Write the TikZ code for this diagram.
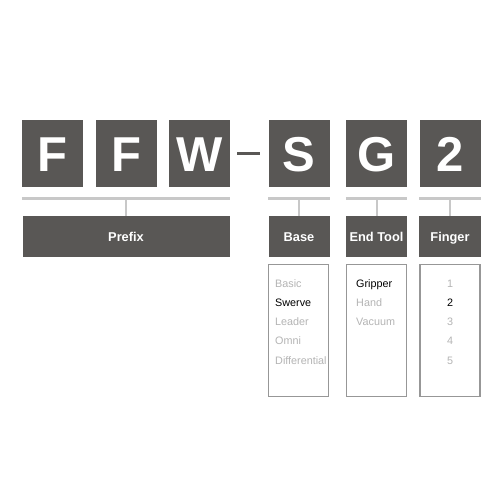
\documentclass[tikz,border=0pt]{standalone}
\usepackage{fontspec}
\setmainfont{Liberation Sans}
\definecolor{boxdark}{HTML}{595755}
\definecolor{barline}{HTML}{C8C8C8}
\definecolor{listframe}{HTML}{979797}
\definecolor{itemoff}{HTML}{B4B4B4}

\begin{document}
\begin{tikzpicture}[x=1pt, y=-1pt,
    letter/.style={fill=boxdark, text=white, minimum width=61pt, minimum height=67pt,
      inner sep=0pt, font=\fontsize{49}{49}\selectfont\bfseries, text height=35pt, text depth=0pt},
    label/.style={fill=boxdark, text=white, minimum height=41pt, inner sep=0pt,
      font=\fontsize{12.8}{13}\selectfont\bfseries, text height=9.2pt, text depth=0pt},
    list/.style={draw=listframe, line width=1.9pt, fill=white, minimum width=60pt,
      minimum height=132pt, inner sep=0pt},
    bar/.style={draw=barline, line width=2.6pt},
    stem/.style={draw=barline, line width=2pt},
    item/.style={inner sep=0pt, font=\fontsize{10.8}{11}\selectfont, text=itemoff},
    on/.style={text=black}]
    \useasboundingbox (0,0) rectangle (500,500);

    % code letters
    \node[letter] (F1) at (52.5, 153.5) {F};
    \node[letter] (F2) at (126.5, 153.5) {F};
    \node[letter] (W) at (199.5, 153.5) {W};
    \node[letter] (S) at (299, 153.5) {S};
    \node[letter] (G) at (376.5, 153.5) {G};
    \node[letter] (N2) at (450, 153.5) {2};
    \draw[boxdark, line width=3pt] ([xshift=7pt]W.east) -- ([xshift=-8pt]S.west);

    % labels
    \node[label, minimum width=207pt] (prefix) at (126, 236.5) {Prefix};
    \node[label, minimum width=61pt] (base) at (299, 236.5) {Base};
    \node[label, minimum width=61pt] (endtool) at (376.5, 236.5) {End Tool};
    \node[label, minimum width=62pt] (finger) at (450, 236.5) {Finger};

    \draw[bar] ([yshift=-11pt]F1.south west) -- ([yshift=-11pt]W.south east);
    \draw[bar] ([yshift=-11pt]S.south west) -- ([yshift=-11pt]S.south east);
    \draw[bar] ([yshift=-11pt]G.south west) -- ([yshift=-11pt]G.south east);
    \draw[bar] ([yshift=-11pt]N2.south west) -- ([yshift=-11pt]N2.south east);
    \draw[stem] (prefix.north) -- ++(0,-18);
    \draw[stem] (base.north) -- ++(0,-18);
    \draw[stem] (endtool.north) -- ++(0,-18);
    \draw[stem] (finger.north) -- ++(0,-18);

    % option lists
    \node[list] (baselist) at (298.5, 330.5) {};
    \node[list] (toollist) at (376.5, 330.5) {};
    \node[list] (fingerlist) at (450, 330.5) {};

    \node[item, anchor=base west] (b1) at (275, 287) {Basic};
    \node[item, on, anchor=base west] (b2) at (275, 306.3) {Swerve};
    \node[item, anchor=base west] (b3) at (275, 325.6) {Leader};
    \node[item, anchor=base west] (b4) at (275, 344.9) {Omni};
    \node[item, anchor=base west] (b5) at (275, 364.2) {Differential};

    \node[item, on, anchor=base west] (t1) at (356, 287) {Gripper};
    \node[item, anchor=base west] (t2) at (356, 306.3) {Hand};
    \node[item, anchor=base west] (t3) at (356, 325.6) {Vacuum};

    \node[item, anchor=base] (n1) at (450, 287) {1};
    \node[item, on, anchor=base] (n2) at (450, 306.3) {2};
    \node[item, anchor=base] (n3) at (450, 325.6) {3};
    \node[item, anchor=base] (n4) at (450, 344.9) {4};
    \node[item, anchor=base] (n5) at (450, 364.2) {5};
  \end{tikzpicture}
\end{document}
